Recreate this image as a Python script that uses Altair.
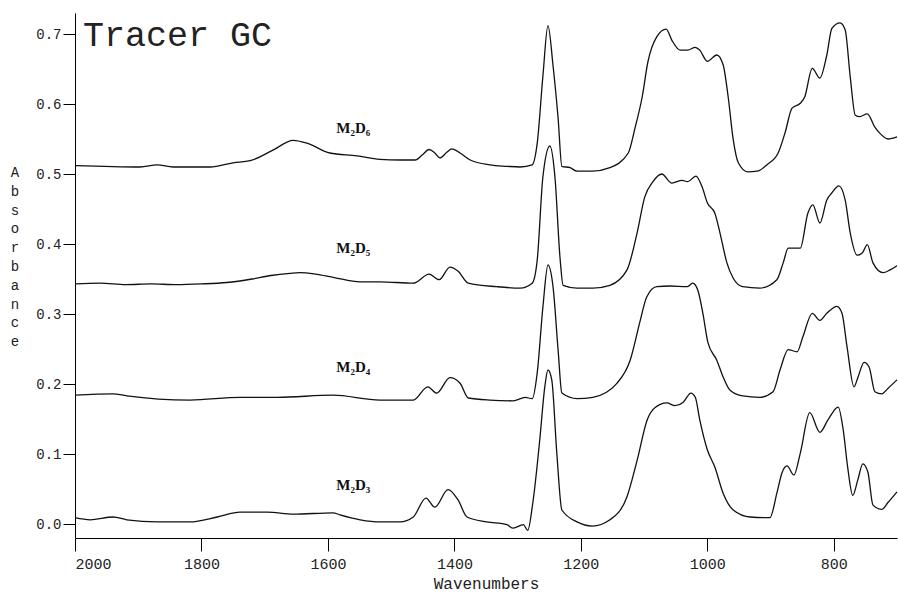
import altair as alt
import pandas as pd

# ---- data (wavenumber in cm^-1, absorbance) ----
wn_d6 = [2000, 1897, 1870, 1845, 1786, 1750, 1723, 1687, 1655, 1633, 1597, 1554, 1518, 1486, 1462, 1451, 1440,
         1431, 1423, 1412, 1404, 1391, 1375, 1344, 1317, 1296, 1277, 1269, 1260, 1252, 1244, 1236, 1230, 1217,
         1206, 1182, 1154, 1125, 1114, 1103, 1094, 1080, 1065, 1056, 1043, 1031, 1019, 1012, 1000, 985, 975,
         967, 959, 951, 936, 921, 906, 888, 877, 866, 853, 846, 834, 822, 811, 803, 790, 782, 774, 766, 759,
         747, 735, 727, 714, 700]
ab_d6 = [0.512, 0.510, 0.513, 0.510, 0.510, 0.516, 0.519, 0.534, 0.548, 0.544, 0.530, 0.526, 0.521, 0.520, 0.520,
         0.527, 0.535, 0.530, 0.523, 0.531, 0.536, 0.530, 0.520, 0.513, 0.511, 0.510, 0.513, 0.544, 0.640, 0.712,
         0.655, 0.580, 0.511, 0.509, 0.504, 0.504, 0.509, 0.530, 0.567, 0.610, 0.660, 0.696, 0.707, 0.691, 0.677,
         0.677, 0.681, 0.677, 0.661, 0.670, 0.656, 0.610, 0.549, 0.516, 0.503, 0.504, 0.513, 0.530, 0.559, 0.594,
         0.601, 0.610, 0.651, 0.637, 0.670, 0.708, 0.716, 0.706, 0.639, 0.584, 0.582, 0.586, 0.567, 0.558, 0.550,
         0.553]

wn_d5 = [2000, 1960, 1920, 1880, 1840, 1800, 1760, 1720, 1690, 1660, 1644, 1620, 1590, 1549, 1518, 1465, 1440,
         1424, 1407, 1394, 1378, 1333, 1296, 1277, 1269, 1260, 1249, 1241, 1233, 1228, 1206, 1181, 1154, 1127,
         1111, 1099, 1086, 1072, 1056, 1040, 1031, 1018, 1008, 1000, 988, 980, 969, 959, 944, 917, 890, 880,
         872, 853, 841, 833, 822, 811, 803, 792, 782, 774, 763, 755, 747, 738, 722, 711, 700]
ab_d5 = [0.343, 0.344, 0.342, 0.343, 0.342, 0.343, 0.345, 0.350, 0.355, 0.358, 0.359, 0.357, 0.352, 0.346, 0.346,
         0.344, 0.357, 0.349, 0.367, 0.361, 0.344, 0.339, 0.337, 0.344, 0.377, 0.496, 0.540, 0.496, 0.381, 0.341,
         0.337, 0.337, 0.341, 0.363, 0.416, 0.467, 0.489, 0.500, 0.487, 0.491, 0.489, 0.497, 0.481, 0.459, 0.444,
         0.416, 0.373, 0.351, 0.339, 0.337, 0.349, 0.373, 0.394, 0.394, 0.444, 0.456, 0.430, 0.463, 0.473, 0.483,
         0.463, 0.416, 0.384, 0.387, 0.399, 0.373, 0.359, 0.363, 0.369]

wn_d4 = [2000, 1940, 1918, 1818, 1739, 1680, 1592, 1518, 1465, 1442, 1428, 1407, 1391, 1378, 1344, 1307, 1288,
         1277, 1269, 1260, 1252, 1244, 1236, 1230, 1206, 1181, 1143, 1122, 1106, 1096, 1080, 1059, 1032, 1023,
         1015, 1007, 999, 985, 975, 964, 944, 917, 896, 885, 872, 858, 849, 834, 822, 811, 795, 787, 779, 768,
         762, 752, 744, 735, 724, 714, 700]
ab_d4 = [0.184, 0.186, 0.183, 0.177, 0.181, 0.181, 0.184, 0.177, 0.177, 0.196, 0.187, 0.209, 0.201, 0.180, 0.177,
         0.176, 0.181, 0.179, 0.216, 0.310, 0.370, 0.339, 0.249, 0.187, 0.179, 0.181, 0.201, 0.234, 0.291, 0.324,
         0.339, 0.340, 0.339, 0.344, 0.334, 0.301, 0.259, 0.234, 0.210, 0.191, 0.183, 0.181, 0.189, 0.220, 0.249,
         0.246, 0.267, 0.301, 0.291, 0.301, 0.311, 0.301, 0.253, 0.196, 0.209, 0.231, 0.224, 0.189, 0.186, 0.194,
         0.206]

wn_d3 = [2000, 1976, 1940, 1918, 1870, 1818, 1775, 1739, 1696, 1655, 1592, 1581, 1549, 1518, 1486, 1465, 1445,
         1431, 1410, 1394, 1380, 1349, 1317, 1307, 1291, 1284, 1276, 1265, 1257, 1252, 1246, 1238, 1230, 1206,
         1182, 1154, 1127, 1111, 1095, 1083, 1064, 1051, 1038, 1026, 1019, 1012, 1000, 988, 975, 959, 932, 901,
         890, 882, 874, 863, 853, 838, 822, 809, 793, 785, 778, 770, 762, 754, 746, 738, 724, 714, 700]
ab_d3 = [0.009, 0.006, 0.010, 0.006, 0.003, 0.003, 0.010, 0.017, 0.017, 0.014, 0.016, 0.013, 0.006, 0.003, 0.003,
         0.010, 0.037, 0.024, 0.049, 0.034, 0.010, 0.003, -0.001, -0.006, -0.001, -0.009, 0.030, 0.120, 0.196,
         0.220, 0.206, 0.101, 0.020, 0.003, -0.003, 0.006, 0.039, 0.091, 0.149, 0.166, 0.173, 0.169, 0.174, 0.187,
         0.181, 0.149, 0.106, 0.081, 0.044, 0.020, 0.010, 0.009, 0.044, 0.073, 0.083, 0.070, 0.101, 0.159, 0.131,
         0.149, 0.167, 0.134, 0.081, 0.041, 0.063, 0.086, 0.074, 0.027, 0.021, 0.031, 0.046]

series_names = ["M\u2082D\u2086", "M\u2082D\u2085", "M\u2082D\u2084", "M\u2082D\u2083"]
label_wn = [1560, 1560, 1560, 1560]
label_ab = [0.566, 0.394, 0.224, 0.056]
tick_wn = [2000, 1800, 1600, 1400, 1200, 1000, 800]
tick_ab = [0.0, 0.1, 0.2, 0.3, 0.4, 0.5, 0.6, 0.7]
title_text = "Tracer GC"
y_title = "Absorbance"
x_title = "Wavenumbers"

rows = []
for name, wn, ab in zip(series_names, [wn_d6, wn_d5, wn_d4, wn_d3], [ab_d6, ab_d5, ab_d4, ab_d3]):
    for w, a in zip(wn, ab):
        rows.append({"series": name, "wn": w, "ab": a})
df = pd.DataFrame(rows)
lab_df = pd.DataFrame({"series": series_names, "wn": label_wn, "ab": label_ab})

MONO = "Liberation Mono"

x = alt.X("wn:Q",
          scale=alt.Scale(domain=[700, 2000], reverse=True, nice=False, zero=False),
          axis=alt.Axis(values=tick_wn, format="d", title=x_title, grid=False,
                        tickSize=13, labelPadding=5, labelFontSize=15, titleFontSize=16,
                        titlePadding=4, labelFont=MONO, titleFont=MONO, titleFontWeight="normal",
                        labelColor="#222", titleColor="#222"))
y = alt.Y("ab:Q",
          scale=alt.Scale(domain=[-0.02, 0.73], nice=False, zero=False),
          axis=alt.Axis(values=tick_ab, format=".1f", title=None, grid=False,
                        tickSize=12, labelPadding=2, labelFontSize=14, labelFont=MONO,
                        labelColor="#222"))

lines = alt.Chart(df).mark_line(color="#111", strokeWidth=1.3, interpolate="monotone").encode(
    x=x, y=y, detail="series:N")

labels = alt.Chart(lab_df).mark_text(font="Liberation Serif", fontWeight="bold", fontSize=15,
                                     color="#111").encode(x=x, y=y, text="series:N")

one = pd.DataFrame({"t": [title_text], "v": ["\n".join(list(y_title))]})

title_mark = alt.Chart(one).mark_text(font=MONO, fontSize=35, align="left", baseline="middle",
                                      color="#222").encode(
    x=alt.value(8), y=alt.value(22), text="t:N")

ytitle_mark = alt.Chart(one).mark_text(font=MONO, fontSize=14, align="center", baseline="top",
                                       lineBreak="\n", lineHeight=18.8, color="#222").encode(
    x=alt.value(-60), y=alt.value(153), text="v:N")

chart = alt.layer(lines, labels, title_mark, ytitle_mark).properties(
    width=822, height=525,
    padding={"left": 75, "top": 13, "right": 1, "bottom": 61},
    autosize=alt.AutoSizeParams(type="none"),
    background="white",
).configure_view(stroke=None).configure_axis(
    domainColor="#000", tickColor="#000", domainWidth=1, tickWidth=1)

chart.save("out.html", embed_options={"renderer": "svg", "actions": False})
